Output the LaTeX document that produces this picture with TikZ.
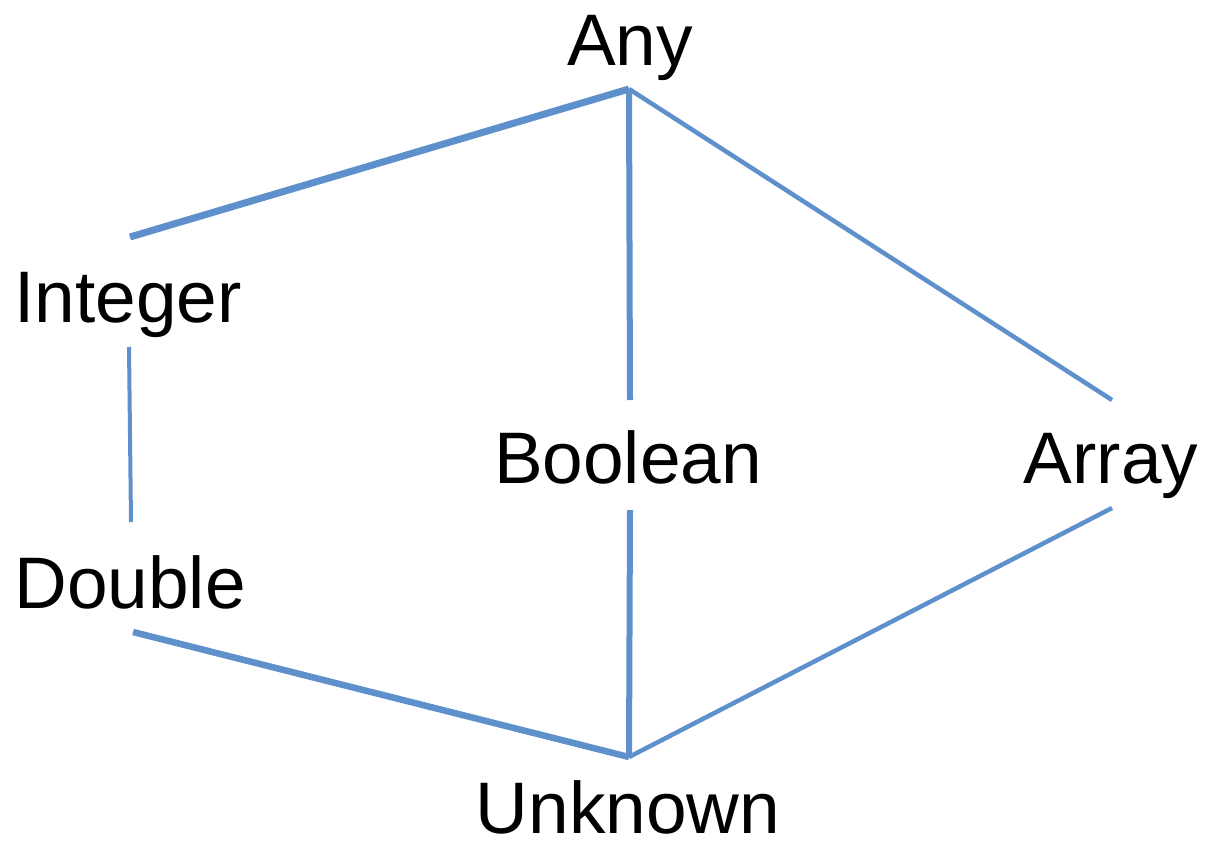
\documentclass[tikz,border=0pt]{standalone}
\usepackage{fontspec}
\setmainfont{Liberation Sans}
\definecolor{edgeblue}{HTML}{5E91CB}
\begin{document}
\begin{tikzpicture}[x=1pt,y=-1pt,
  label/.style={font=\fontsize{73}{80}\selectfont, inner sep=0pt, anchor=base},
  edge/.style={draw=edgeblue, line cap=butt}]
\useasboundingbox (0,0) rectangle (1206,848);
% type names
\node[label] (any) at (630,66) {Any};
\node[label] (int) at (128,322) {Integer};
\node[label] (dbl) at (130,608) {Double};
\node[label] (bool) at (628,483) {Boolean};
\node[label] (arr) at (1111,483) {Array};
\node[label] (unk) at (628,833) {Unknown};
% connector end points
\coordinate (anyB) at (629,89);
\coordinate (intT) at (130,237);
\coordinate (intB) at (129,347);
\coordinate (dblT) at (131,522);
\coordinate (dblB) at (133,632);
\coordinate (boolT) at (630,400);
\coordinate (boolB) at (630,510);
\coordinate (arrT) at (1112,400);
\coordinate (arrB) at (1112,508);
\coordinate (unkT) at (629,757);
% lattice edges
\draw[edge, line width=7pt] (anyB) -- (intT);
\draw[edge, line width=6pt] (anyB) -- (boolT);
\draw[edge, line width=4.5pt] (anyB) -- (arrT);
\draw[edge, line width=4pt] (intB) -- (dblT);
\draw[edge, line width=6.5pt] (dblB) -- (unkT);
\draw[edge, line width=6pt] (boolB) -- (unkT);
\draw[edge, line width=4.5pt] (arrB) -- (unkT);
\end{tikzpicture}
\end{document}
